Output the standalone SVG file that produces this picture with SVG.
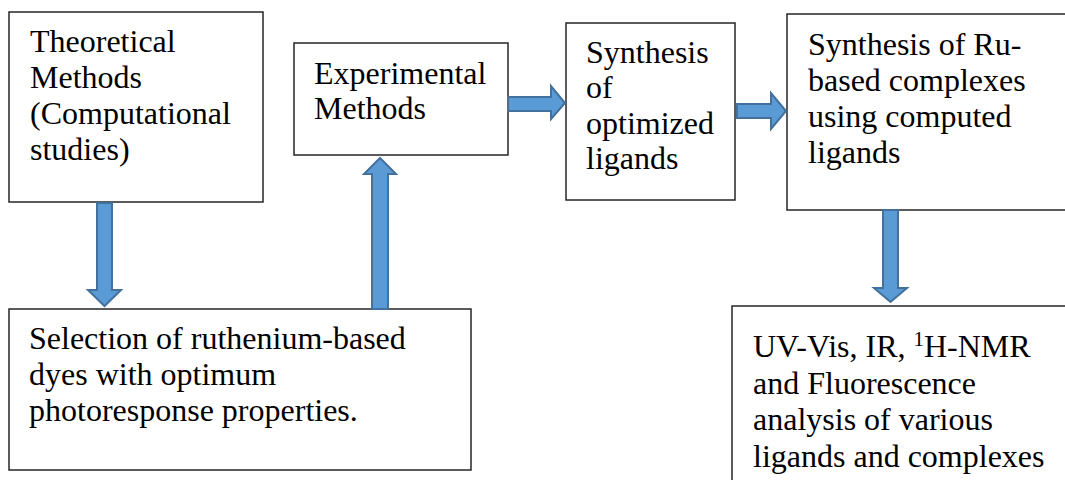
<svg xmlns="http://www.w3.org/2000/svg" width="1065" height="480" viewBox="0 0 1065 480">
  <style>
    .box { fill: #ffffff; stroke: #262626; stroke-width: 1.5; }
    .lbl { font-family: "Liberation Serif", "Times New Roman", Times, serif; font-size: 32px; fill: #000000; }
    .sup { font-size: 21px; }
    .arrow { fill: #5B9BD5; stroke: #41719C; stroke-width: 2; stroke-linejoin: miter; }
  </style>
  <rect width="1065" height="480" fill="#ffffff"/>

  <g id="theoretical">
    <rect class="box" x="9" y="12" width="254" height="190"/>
    <text class="lbl">
      <tspan x="30" y="52">Theoretical</tspan>
      <tspan x="30" y="88">Methods</tspan>
      <tspan x="30" y="124">(Computational</tspan>
      <tspan x="30" y="160">studies)</tspan>
    </text>
  </g>

  <g id="experimental">
    <rect class="box" x="294" y="43" width="214" height="112"/>
    <text class="lbl">
      <tspan x="314" y="84">Experimental</tspan>
      <tspan x="314" y="119">Methods</tspan>
    </text>
  </g>

  <g id="ligand-synthesis">
    <rect class="box" x="566" y="23" width="169" height="177"/>
    <text class="lbl">
      <tspan x="586" y="63">Synthesis</tspan>
      <tspan x="586" y="98">of</tspan>
      <tspan x="586" y="134">optimized</tspan>
      <tspan x="586" y="169">ligands</tspan>
    </text>
  </g>

  <g id="complex-synthesis">
    <rect class="box" x="787" y="14" width="300" height="196"/>
    <text class="lbl">
      <tspan x="808" y="55">Synthesis of Ru-</tspan>
      <tspan x="808" y="91">based complexes</tspan>
      <tspan x="808" y="127">using computed</tspan>
      <tspan x="808" y="163">ligands</tspan>
    </text>
  </g>

  <g id="selection">
    <rect class="box" x="9" y="309" width="462" height="161"/>
    <text class="lbl">
      <tspan x="29" y="349">Selection of ruthenium-based</tspan>
      <tspan x="29" y="385">dyes with optimum</tspan>
      <tspan x="29" y="421">photoresponse properties.</tspan>
    </text>
  </g>

  <g id="characterisation">
    <rect class="box" x="732" y="306" width="360" height="200"/>
    <text class="lbl">
      <tspan x="753" y="357">UV-Vis, IR, <tspan class="sup" dy="-11">1</tspan><tspan dy="11">H-NMR</tspan></tspan>
      <tspan x="753" y="394">and Fluorescence</tspan>
      <tspan x="753" y="430">analysis of various</tspan>
      <tspan x="753" y="467">ligands and complexes</tspan>
    </text>
  </g>

  <g id="connectors">
    <!-- theoretical -> selection (down) -->
    <polygon class="arrow" points="97,203 112,203 112,290 121,290 104.5,306 88,290 97,290"/>
    <!-- selection -> experimental (up) -->
    <polygon class="arrow" points="372,309 388,309 388,174 396,174 380,158 364,174 372,174"/>
    <!-- experimental -> ligand synthesis -->
    <polygon class="arrow" points="508,97 551,97 551,86 565,103 551,119 551,111 508,111"/>
    <!-- ligand synthesis -> complex synthesis -->
    <polygon class="arrow" points="737,104 771,104 771,93 786,111 771,129 771,118 737,118"/>
    <!-- complex synthesis -> characterisation (down) -->
    <polygon class="arrow" points="883,210 898,210 898,288 907,288 890.5,302 874,288 883,288"/>
  </g>
</svg>
